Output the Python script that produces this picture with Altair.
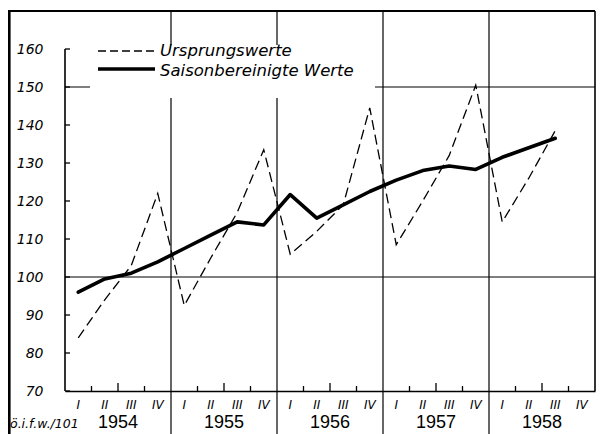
import altair as alt
import pandas as pd

years = ["1954", "1955", "1956", "1957", "1958"]
quarter_names = ["I", "II", "III", "IV"]
ursprung = [84, 94, 103, 122,
            92.5, 105, 117, 133.5,
            106, 112, 119, 144.5,
            108.5, 120, 132, 150.5,
            114.5, 126, 138.5]
saison = [96, 99.5, 101, 104,
          107.5, 111, 114.5, 113.7,
          121.7, 115.5, 119, 122.5,
          125.5, 128, 129.2, 128.3,
          131.5, 134, 136.5]
y_ticks = [70, 80, 90, 100, 110, 120, 130, 140, 150, 160]
ref_lines = [100, 150]
legend_labels = ["Ursprungswerte", "Saisonbereinigte Werte"]
source_note = "ö.i.f.w./101"

FONT = "DejaVu Sans"
W, H = 530, 380

n = len(ursprung)
t = [i + 0.5 for i in range(n)]
df = pd.DataFrame({"t": t, "u": ursprung, "s": saison})
q_df = pd.DataFrame({"t": [i + 0.5 for i in range(len(years) * 4)],
                     "lab": quarter_names * len(years)})
y_df = pd.DataFrame({"t": [i * 4 + 2 for i in range(len(years))], "lab": years})
sep_df = pd.DataFrame({"t": [i * 4 for i in range(1, len(years))]})
qt_small = [i for i in range(1, len(years) * 4) if i % 4 in (1, 3)]
qt_big = [i for i in range(1, len(years) * 4) if i % 4 == 2]
ytick_df = pd.DataFrame({"v": y_ticks})
ref_df = pd.DataFrame({"v": ref_lines})
one = pd.DataFrame({"a": [0]})

xs = alt.Scale(domain=[0, 20], nice=False, zero=False)
ys = alt.Scale(domain=[70, 170], nice=False, zero=False)

y_axis = alt.Axis(values=y_ticks, domain=False, ticks=False, grid=False, labelPadding=22,
                  labelFont=FONT, labelFontSize=14, labelFontStyle="italic",
                  labelColor="black", title=None)
x_axis = alt.Axis(domain=True, domainColor="black", domainWidth=1.6, ticks=False,
                  labels=False, grid=False, title=None)


def XQ(field="t:Q"):
    return alt.X(field, scale=xs, axis=x_axis)


def YQ(field):
    return alt.Y(field, scale=ys, axis=y_axis)


refs = alt.Chart(ref_df).mark_rule(color="black", strokeWidth=1.2).encode(
    y=YQ("v:Q"), x=alt.value(0), x2=alt.value(W))

seps = alt.Chart(sep_df).mark_rule(color="black", strokeWidth=1.2).encode(
    x=XQ(), y=alt.value(0), y2=alt.value(423))

legend_bg = alt.Chart(one).mark_rect(fill="white").encode(
    x=alt.value(25), x2=alt.value(310), y=alt.value(34), y2=alt.value(87))

dashed = alt.Chart(df).mark_line(color="black", strokeWidth=1.3, strokeDash=[10, 5]).encode(
    x=XQ(), y=YQ("u:Q"))
solid = alt.Chart(df).mark_line(color="black", strokeWidth=3.6, strokeCap="round",
                                strokeJoin="round").encode(
    x=XQ(), y=YQ("s:Q"))

yaxis_line = alt.Chart(ytick_df).mark_rule(color="black", strokeWidth=1.6).encode(
    x=alt.value(0), y=YQ("max(v):Q"), y2=alt.Y2("min(v):Q"))
yticks = alt.Chart(ytick_df).mark_rule(color="black", strokeWidth=1.3).encode(
    y=YQ("v:Q"), x=alt.value(0), x2=alt.value(5))
qticks_s = alt.Chart(pd.DataFrame({"t": qt_small})).mark_rule(color="black", strokeWidth=1.3).encode(
    x=XQ(), y=alt.value(380), y2=alt.value(375))
qticks_b = alt.Chart(pd.DataFrame({"t": qt_big})).mark_rule(color="black", strokeWidth=1.3).encode(
    x=XQ(), y=alt.value(380), y2=alt.value(372))

frame_top = alt.Chart(one).mark_rule(color="black", strokeWidth=2.2).encode(
    x=alt.value(-57), x2=alt.value(W), y=alt.value(0))
frame_left = alt.Chart(one).mark_rule(color="black", strokeWidth=3.2).encode(
    x=alt.value(-56), y=alt.value(0), y2=alt.value(423))
frame_right = alt.Chart(one).mark_rule(color="black", strokeWidth=1.6).encode(
    x=alt.value(W), y=alt.value(0), y2=alt.value(H))

leg_dash = alt.Chart(one).mark_rule(color="black", strokeWidth=1.5, strokeDash=[8, 4]).encode(
    x=alt.value(33), x2=alt.value(90), y=alt.value(40))
leg_solid = alt.Chart(one).mark_rule(color="black", strokeWidth=3.6).encode(
    x=alt.value(33), x2=alt.value(90), y=alt.value(58))
leg_t1 = alt.Chart(one).mark_text(
    font=FONT, fontSize=16.5, fontStyle="italic", align="left", baseline="middle", color="black",
    text=legend_labels[0]).encode(x=alt.value(95), y=alt.value(40))
leg_t2 = alt.Chart(one).mark_text(
    font=FONT, fontSize=16.5, fontStyle="italic", align="left", baseline="middle", color="black",
    text=legend_labels[1]).encode(x=alt.value(95), y=alt.value(60))

q_text = alt.Chart(q_df).mark_text(
    font=FONT, fontSize=12, fontStyle="italic", baseline="middle", color="black"
).encode(x=XQ(), y=alt.value(394), text="lab:N")
y_text = alt.Chart(y_df).mark_text(
    font="Liberation Sans", fontSize=18, baseline="middle", color="black"
).encode(x=XQ(), y=alt.value(412), text="lab:N")
note = alt.Chart(one).mark_text(
    font=FONT, fontSize=12.5, fontStyle="italic", align="left", baseline="middle", color="black",
    text=source_note
).encode(x=alt.value(-55), y=alt.value(413))

chart = alt.layer(
    refs, seps, legend_bg, dashed, solid, yaxis_line, yticks, qticks_s, qticks_b,
    frame_top, frame_left, frame_right, leg_dash, leg_solid, leg_t1, leg_t2,
    q_text, y_text, note
).properties(
    width=W, height=H,
    autosize=alt.AutoSizeParams(type="none"),
    padding={"left": 57, "top": 3, "right": 7, "bottom": 43},
    background="white"
).configure_view(stroke=None)

chart.save("out.html", embed_options={"renderer": "svg", "actions": False})
